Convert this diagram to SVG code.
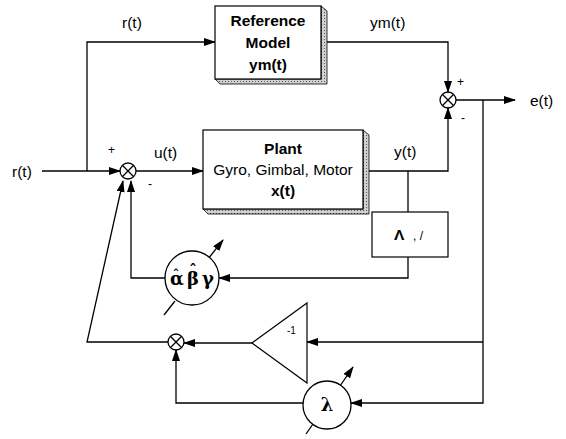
<svg xmlns="http://www.w3.org/2000/svg" width="566" height="439" viewBox="0 0 566 439">
<defs>
<marker id="ah" markerWidth="12" markerHeight="8" refX="11" refY="4" orient="auto" markerUnits="userSpaceOnUse"><path d="M0,0 L12,4 L0,8 z" fill="#000"/></marker>
<pattern id="stip" width="3" height="3" patternUnits="userSpaceOnUse"><rect width="3" height="3" fill="#d0d0d0"/><rect width="1" height="1" fill="#555"/></pattern>
</defs>
<style>
.ln{fill:none;stroke:#000;stroke-width:1.3}
.box{fill:#fff;stroke:#000;stroke-width:1.2}
.sh{fill:url(#stip);stroke:#000;stroke-width:0.8}
.t{font-family:"Liberation Sans",Arial,sans-serif;font-size:15.5px;fill:#000}
.b{font-weight:bold}
.s{font-size:12px}
.g{font-family:"DejaVu Serif","Liberation Serif",serif;font-weight:bold;font-size:18px;fill:#000}
.sum{fill:#fff;stroke:#000;stroke-width:1.3}
</style>
<rect width="566" height="439" fill="#fff"/>
<g id="connectors">
<path class="ln" d="M42,171 H120" marker-end="url(#ah)"/>
<path class="ln" d="M87,171 V42 H215" marker-end="url(#ah)"/>
<path class="ln" d="M327,42 H448 V92" marker-end="url(#ah)"/>
<path class="ln" d="M136,171 H203" marker-end="url(#ah)"/>
<path class="ln" d="M369,171 H448 V108" marker-end="url(#ah)"/>
<path class="ln" d="M408,171 V212"/>
<path class="ln" d="M408,257 V278 H219" marker-end="url(#ah)"/>
<path class="ln" d="M165,278 H131 V181" marker-end="url(#ah)"/>
<path class="ln" d="M456,100 H515" marker-end="url(#ah)"/>
<path class="ln" d="M483,100 V403 H351" marker-end="url(#ah)"/>
<path class="ln" d="M483,342 H307" marker-end="url(#ah)"/>
<path class="ln" d="M252,343 H184" marker-end="url(#ah)"/>
<path class="ln" d="M168,342 H87 L123,181" marker-end="url(#ah)"/>
<path class="ln" d="M303,403 H176 V350" marker-end="url(#ah)"/>
<path class="ln" d="M208,259 L223,240" marker-end="url(#ah)"/>
<path class="ln" d="M175,301 L164,315"/>
<path class="ln" d="M340,386 L353,367" marker-end="url(#ah)"/>
<path class="ln" d="M313,424 L306,434"/>
</g>
<g id="reference-model">
<polygon class="sh" points="321,6 327,11 327,84 220,84 215,79 321,79"/>
<rect class="box" x="215" y="6" width="106" height="73"/>
<text class="t b" x="268" y="26" text-anchor="middle">Reference</text>
<text class="t b" x="268" y="48" text-anchor="middle">Model</text>
<text class="t b" x="268" y="70" text-anchor="middle">ym(t)</text>
</g>
<g id="plant">
<polygon class="sh" points="363,130 369,135 369,214 208,214 203,209 363,209"/>
<rect class="box" x="203" y="130" width="160" height="79"/>
<text class="t b" x="283" y="154" text-anchor="middle">Plant</text>
<text class="t" x="283" y="175" text-anchor="middle">Gyro, Gimbal, Motor</text>
<text class="t b" x="283" y="196" text-anchor="middle">x(t)</text>
</g>
<g id="lambda-box">
<rect class="box" x="372" y="212" width="76" height="45"/>
<text class="t b" x="394" y="240">Λ</text>
<text class="t s" x="413" y="240">, /</text>
</g>
<g id="sum-main">
<circle class="sum" cx="128" cy="171" r="8"/>
<path class="ln" d="M122.3,165.3 L133.7,176.7 M133.7,165.3 L122.3,176.7"/>
</g>
<g id="sum-error">
<circle class="sum" cx="448" cy="100" r="8"/>
<path class="ln" d="M442.3,94.3 L453.7,105.7 M453.7,94.3 L442.3,105.7"/>
</g>
<g id="sum-bottom">
<circle class="sum" cx="176" cy="342" r="8"/>
<path class="ln" d="M170.3,336.3 L181.7,347.7 M181.7,336.3 L170.3,347.7"/>
</g>
<g id="abg">
<circle class="sum" cx="192" cy="278" r="27"/>
<text class="g" text-anchor="middle"><tspan x="177" y="285">α</tspan><tspan x="176" y="279" style="font-size:13px">ˆ</tspan><tspan x="193" y="285">β</tspan><tspan x="193" y="275" style="font-size:15px">ˆ</tspan><tspan x="208" y="285">γ</tspan></text>
</g>
<g id="gain">
<polygon class="box" points="252,343 307,303 307,383"/>
<text class="t" x="287" y="334" style="font-size:10px">-1</text>
</g>
<g id="lambda">
<circle class="sum" cx="327" cy="405" r="24"/>
<text class="g" x="327" y="411" text-anchor="middle">λ</text>
</g>
<g id="labels">
<text class="t" x="12" y="177">r(t)</text>
<text class="t" x="122" y="28">r(t)</text>
<text class="t" x="370" y="28">ym(t)</text>
<text class="t s" x="457" y="86">+</text>
<text class="t s" x="461" y="122">-</text>
<text class="t" x="530" y="106">e(t)</text>
<text class="t" x="154" y="158">u(t)</text>
<text class="t" x="394" y="157">y(t)</text>
<text class="t s" x="108" y="154">+</text>
<text class="t s" x="148" y="188">-</text>
</g>
</svg>
